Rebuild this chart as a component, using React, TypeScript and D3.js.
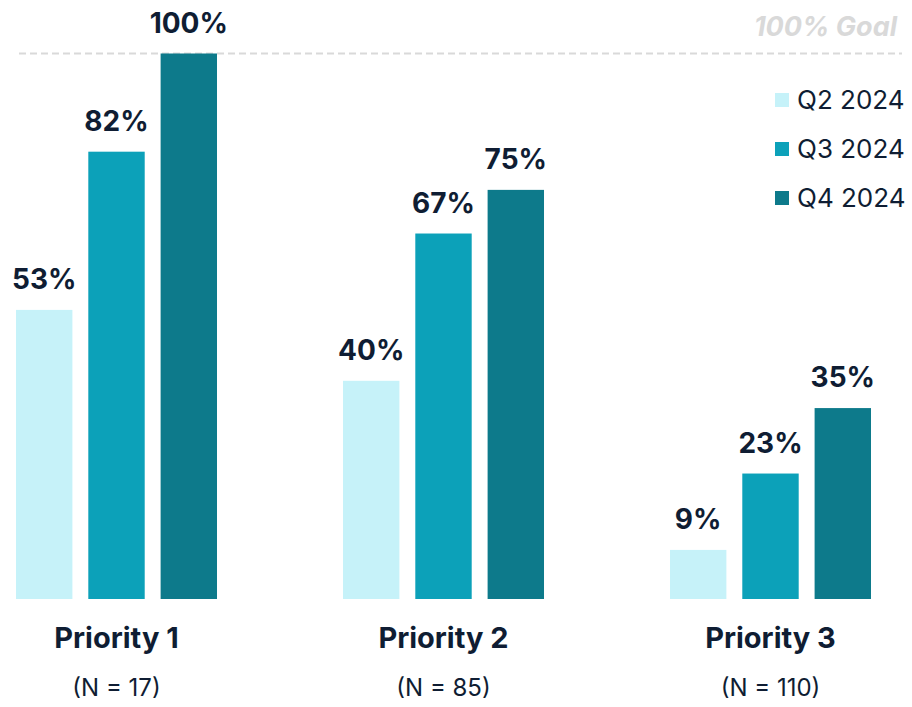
import React from "react";
import * as d3 from "d3";

const categories = ["Priority 1", "Priority 2", "Priority 3"];
const sampleSizes = ["(N = 17)", "(N = 85)", "(N = 110)"];
const seriesNames = ["Q2 2024", "Q3 2024", "Q4 2024"];
const q2Values = [53, 40, 9];
const q3Values = [82, 67, 23];
const q4Values = [100, 75, 35];
const goalValue = 100;
const goalLabel = "100% Goal";

const colors = ["#c6f2f9", "#0ca1b9", "#0d7a8b"];
const FONT = "Inter, 'Noto Sans', sans-serif";
const TEXT = "#0f1d33";

export default function App() {
  const W = 912, H = 707;
  const seriesValues = [q2Values, q3Values, q4Values];
  const x = d3.scaleBand<string>().domain(categories).range([16, 871]).paddingInner(0.3853).paddingOuter(0);
  const xi = d3.scaleBand<string>().domain(seriesNames).range([0, x.bandwidth()]).paddingInner(0.22).paddingOuter(0);
  const y = d3.scaleLinear().domain([0, 100]).range([599, 53.5]);

  return (
    <svg width={W} height={H} style={{ position: "absolute", left: 0, top: 0, background: "#fff" }} fontFamily={FONT}>
      <line x1={19} x2={902} y1={y(goalValue)} y2={y(goalValue)} stroke="#d9d9d9" strokeWidth={2} strokeDasharray="7,4" />
      <text x={897} y={36} textAnchor="end" fontStyle="italic" fontWeight={700} fontSize={27} fill="#d9d9d9">{goalLabel}</text>
      {categories.map((c, ci) => (
        <g key={c} transform={`translate(${x(c)},0)`}>
          {seriesNames.map((s, si) => {
            const v = seriesValues[si][ci];
            const bx = xi(s)!;
            return (
              <g key={s}>
                <rect x={bx} y={y(v)} width={xi.bandwidth()} height={y(0) - y(v)} fill={colors[si]} />
                <text x={bx + xi.bandwidth() / 2} y={y(v) - 21} textAnchor="middle" fontWeight={700} fontSize={28} fill={TEXT}>{v}%</text>
              </g>
            );
          })}
          <text x={x.bandwidth() / 2} y={648} textAnchor="middle" fontWeight={700} fontSize={29} fill={TEXT}>{c}</text>
          <text x={x.bandwidth() / 2} y={696} textAnchor="middle" fontWeight={400} fontSize={24} fill={TEXT}>{sampleSizes[ci]}</text>
        </g>
      ))}
      {seriesNames.map((s, si) => (
        <g key={s} transform={`translate(775,${100 + si * 49})`}>
          <rect x={0} y={-7} width={14} height={14} fill={colors[si]} />
          <text x={22} y={0} dy="0.36em" fontSize={26} fill={TEXT}>{s}</text>
        </g>
      ))}
    </svg>
  );
}
